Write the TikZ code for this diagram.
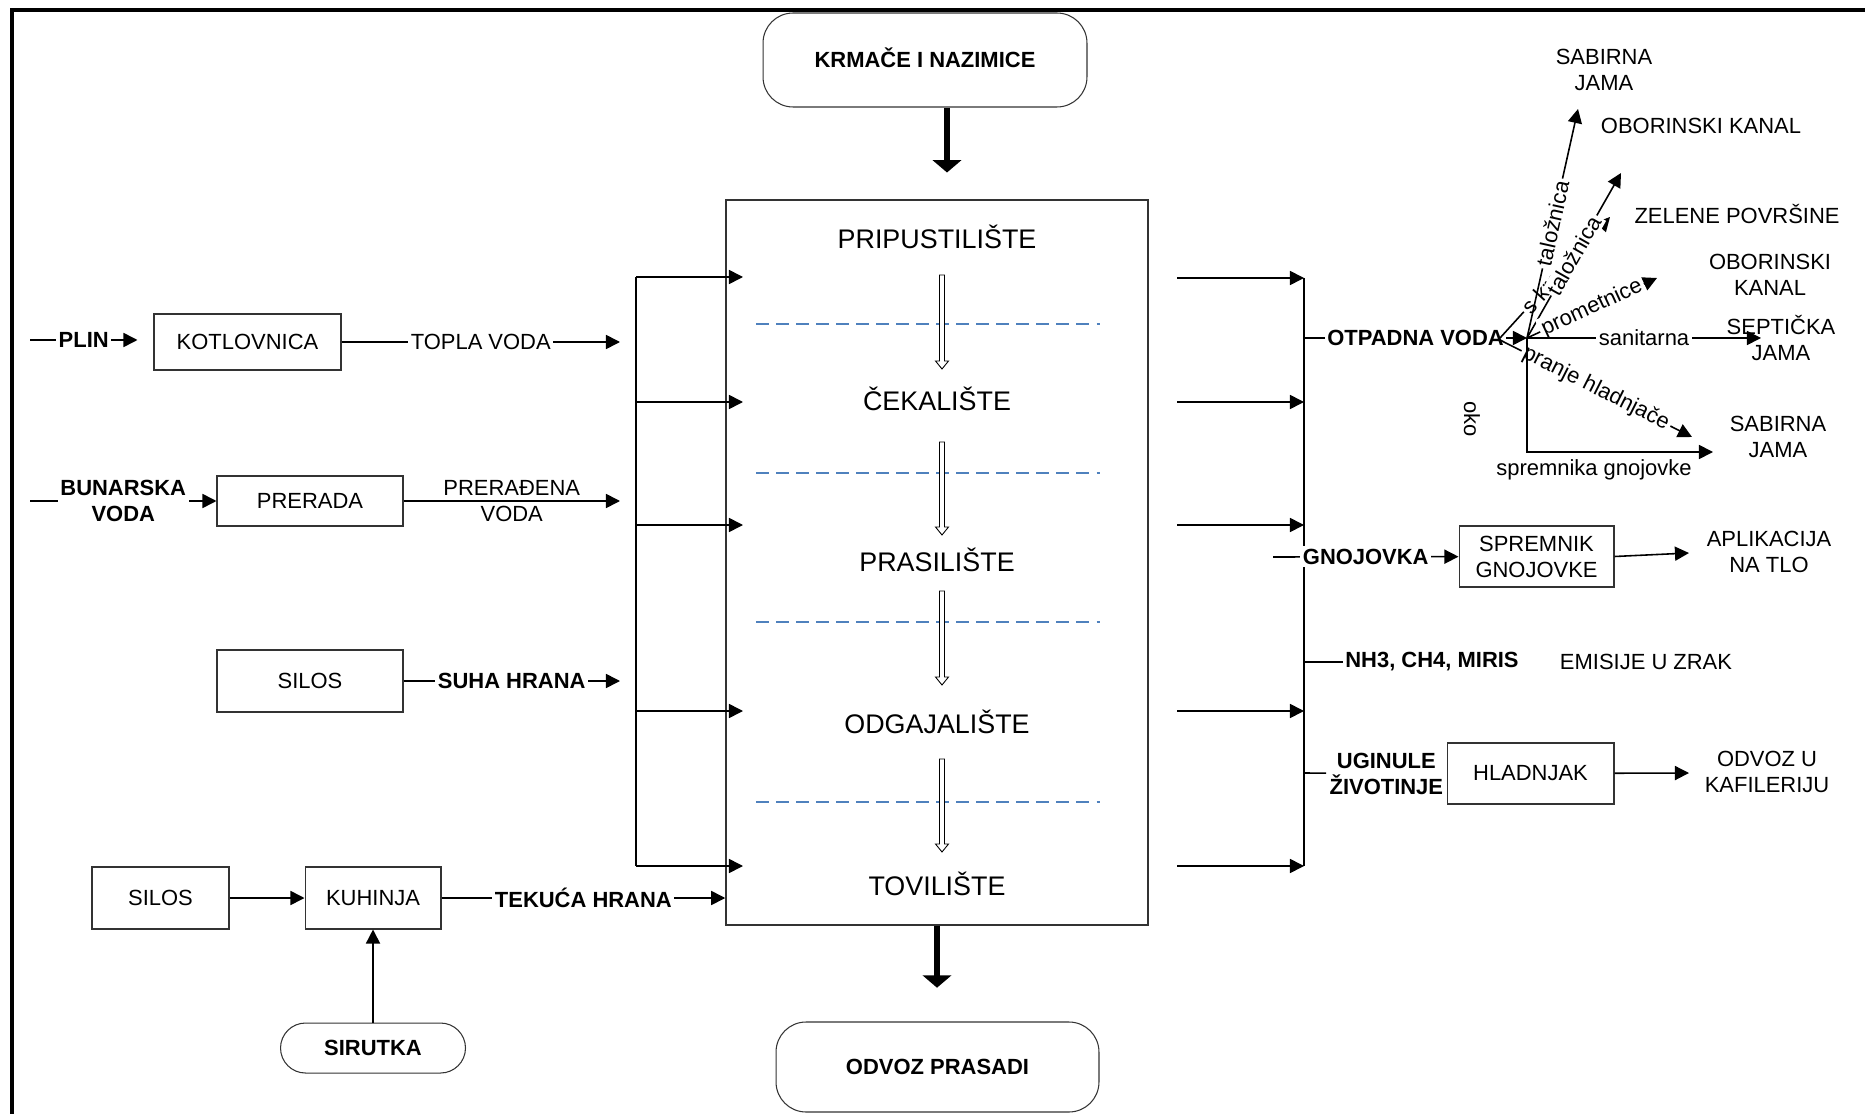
\documentclass[tikz,border=0pt]{standalone}
\usepackage{fontspec}
\setmainfont{Liberation Sans}
\usetikzlibrary{arrows.meta,positioning}
\definecolor{sepblue}{HTML}{4F81BD}
\tikzstyle{box} = [rectangle, draw=black!80, line width=0.6pt, align=center, inner sep=0pt]
\tikzstyle{term} = [rectangle, draw=black!80, line width=0.6pt, rounded corners=0.6cm,
    font=\bfseries, inner sep=0pt, text height=0.716em, text depth=0pt]
\tikzstyle{lbl} = [fill=white, inner sep=1.5pt, align=center]
\tikzstyle{blbl} = [lbl, font=\bfseries]
\tikzstyle{dest} = [align=center, inner sep=1pt]
\tikzstyle{stage} = [font=\fontsize{15.3pt}{18pt}\selectfont, text height=0.716em, text depth=0pt]
\tikzstyle{sep} = [draw=sepblue, line width=0.8pt, dash pattern=on 7.4pt off 4pt]
\tikzstyle{fat} = [line width=3.4pt, -{Triangle[length=7pt,width=16pt]}]
\tikzstyle{hollow} = [draw, fill=white, line width=0.5pt]

\begin{document}
\fontsize{12.5pt}{14.8pt}\selectfont
\begin{tikzpicture}[x=0.02cm, y=-0.02cm, line width=0.9pt,
                    >={Triangle[length=8pt,width=8pt]}, node distance=1.5cm]
  \useasboundingbox (0,0) rectangle (1865,1114);
  \draw[line width=1.8pt] (12,1130) -- (12,10) -- (1880,10);

  % farma
  \node[box, line width=0.9pt, minimum width=8.44cm, minimum height=14.5cm] (farma) at (937,562.5) {};
  \node[term, minimum width=6.48cm, minimum height=1.88cm] (krmace) at (925,60) {KRMAČE I NAZIMICE};
  \node[term, minimum width=6.46cm, minimum height=1.8cm] (odvoz) at (937.5,1067) {ODVOZ PRASADI};
  \node[stage] (s1) at (937,241) {PRIPUSTILIŠTE};
  \node[stage] (s2) at (937,403) {ČEKALIŠTE};
  \node[stage] (s3) at (937,564) {PRASILIŠTE};
  \node[stage] (s4) at (937,726) {ODGAJALIŠTE};
  \node[stage] (s5) at (937,888) {TOVILIŠTE};

  \foreach \y in {324,473,622,802}
    \draw[sep] (756,\y) -- (1100,\y);
  \foreach \a/\b in {275/369,442/535,591/685,759/852}
    \draw[hollow] (939.5,\a) -- (944.5,\a) -- (944.5,\b-8) -- (948.5,\b-8)
      -- (942,\b) -- (935.5,\b-8) -- (939.5,\b-8) -- cycle;

  \draw[fat] ([xshift=0.44cm]krmace.south) -- ++(0,65);
  \draw[fat] (farma.south) -- ++(0,62);

  % ulazi
  \node[box, minimum width=3.74cm, minimum height=1.12cm] (kotl) at (247.5,342) {KOTLOVNICA};
  \node[box, minimum width=3.72cm, minimum height=1.0cm] (prerada) at (310,501) {PRERADA};
  \node[box, minimum width=3.72cm, minimum height=1.24cm] (silos) at (310,681) {SILOS};
  \node[box, minimum width=2.74cm, minimum height=1.24cm] (silos2) at (160.5,898) {SILOS};
  \node[box, minimum width=2.72cm, minimum height=1.24cm] (kuhinja) [right=of silos2] {KUHINJA};
  \node[term, rounded corners=0.5cm, minimum width=3.7cm, minimum height=1.0cm] (sirutka)
    [below=1.86cm of kuhinja] {SIRUTKA};

  \coordinate (plin) at (30,340);
  \coordinate (bunar) at (30,501);
  \coordinate (u1) at (620,342);
  \coordinate (u2) at (620,501);
  \coordinate (u3) at (620,681);

  \draw[->] (plin) -- node[blbl] {PLIN} ([xshift=-0.32cm,yshift=0.04cm]kotl.west);
  \draw[->] (kotl) -- node[lbl] {TOPLA VODA} (u1);
  \draw[->] (bunar) -- node[blbl] {BUNARSKA\\VODA} (prerada);
  \draw[->] (prerada) -- node[align=center] {PRERAĐENA\\VODA} (u2);
  \draw[->] (silos) -- node[blbl] {SUHA HRANA} (u3);
  \draw[->] (silos2) -- (kuhinja);
  \draw[->] (sirutka) -- (kuhinja);
  \draw[->] (kuhinja) -- node[blbl] {TEKUĆA HRANA} (kuhinja -| farma.west);

  \draw (636,277) -- (636,866);
  \foreach \y in {277,402,525,711,866}
    \draw[->] (636,\y) -- (743,\y);

  % izlazi
  \draw (1304,278) -- (1304,866);
  \foreach \y in {278,402,525,711,866}
    \draw[->] (1177,\y) -- (1304,\y);

  \node[box, minimum width=3.1cm, minimum height=1.22cm] (spremnik) at (1536.5,556.5) {SPREMNIK\\GNOJOVKE};
  \node[box, minimum width=3.34cm, minimum height=1.22cm] (hladnjak) at (1530.5,773.5) {HLADNJAK};
  \node[dest] (apl) at (1769,552) {APLIKACIJA\\NA TLO};
  \node[dest] (kaf) at (1767,772) {ODVOZ U\\KAFILERIJU};
  \node[dest, font=\bfseries] (plinovi) at (1432,662) {NH3, CH4, MIRIS};
  \node[dest] (zrak) at (1646,662) {EMISIJE U ZRAK};
  \node[blbl, left=0pt of hladnjak] (uginule) {UGINULE\\ŽIVOTINJE};

  \draw[->] (1273,557) -- node[blbl] {GNOJOVKA} (spremnik);
  \draw[->] (spremnik.east) -- (1689,553);
  \draw (1304,662) -- (plinovi);
  \draw (1304,773) -- (uginule);
  \draw[->] (hladnjak) -- (1689,773);

  % otpadna voda
  \coordinate (hub) at (1527,338);
  \node[dest] (sab1) at (1604,70) {SABIRNA\\JAMA};
  \node[dest] (obk1) at (1701,126) {OBORINSKI KANAL};
  \node[dest] (zel) at (1737,214) {ZELENE POVRŠINE};
  \node[dest] (obk2) at (1770,275) {OBORINSKI\\KANAL};
  \node[dest] (sept) at (1781,338) {SEPTIČKA\\JAMA};
  \node[dest] (sab2) at (1778,437) {SABIRNA\\JAMA};

  \draw[->] (1304,338) -- node[blbl] {OTPADNA VODA} (hub);
  \draw[->] (1500,338) -- node[lbl, sloped, pos=0.45] {s krova} (1610,217);
  \draw[->] (1500,340) -- node[lbl, sloped] {pranje hladnjače} (1692,437);
  \draw[->] (hub) -- node[lbl, sloped] {taložnica} (1578,109);
  \draw[->] (hub) -- node[lbl, sloped] {taložnica} (1621,173);
  \draw[->] (hub) -- node[lbl, sloped] {prometnice} (1657,278);
  \draw[->] (hub) -- node[lbl] {sanitarna} (1761,338);
  \draw[->] (hub) -- (1527,452) -- (1713,452);
  \node[rotate=-90] (oko) at (1472,419) {oko};
  \node (gnoj) at (1594,470) {spremnika gnojovke};
\end{tikzpicture}
\end{document}
